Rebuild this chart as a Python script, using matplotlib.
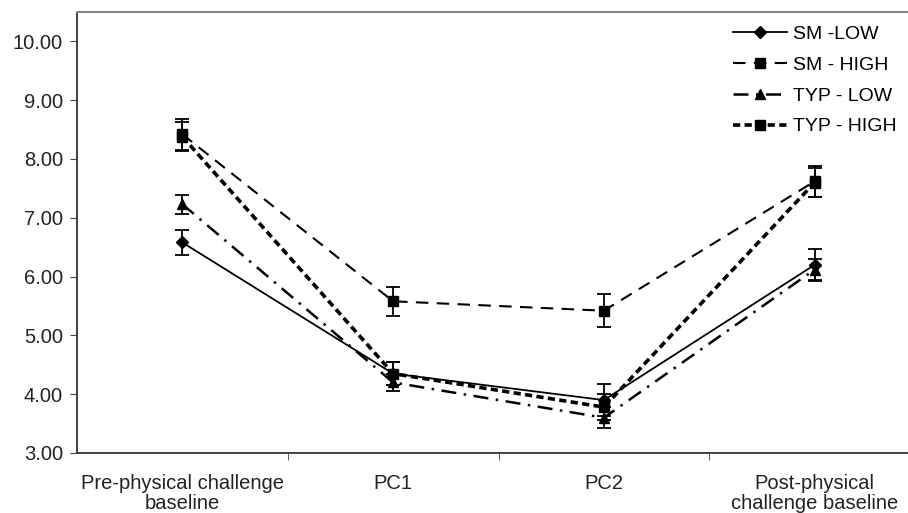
import numpy as np
import matplotlib.pyplot as plt

plt.rcParams['font.family'] = ['Liberation Sans', 'DejaVu Sans']

# categories on the x axis
phases = ["Pre-physical challenge\nbaseline", "PC1", "PC2", "Post-physical\nchallenge baseline"]

# group means and error bars
sm_low = [6.58, 4.35, 3.90, 6.20]
sm_low_err = [0.22, 0.20, 0.27, 0.27]
sm_high = [8.42, 5.58, 5.42, 7.62]
sm_high_err = [0.26, 0.25, 0.28, 0.26]
typ_low = [7.23, 4.20, 3.60, 6.12]
typ_low_err = [0.16, 0.15, 0.18, 0.18]
typ_high = [8.38, 4.35, 3.78, 7.60]
typ_high_err = [0.25, 0.20, 0.22, 0.25]

fig = plt.figure(figsize=(9.08, 5.13), dpi=100)
# axes runs a little past the right edge, like the original
ax = fig.add_axes([77 / 908, (513 - 453) / 513, (920 - 77) / 908, (453 - 12) / 513])

x = np.arange(len(phases))

series = [
    (sm_low, sm_low_err, "SM -LOW", "-", "D", 1.3, 6),
    (sm_high, sm_high_err, "SM - HIGH", (0, (6, 4)), "s", 1.5, 7),
    (typ_low, typ_low_err, "TYP - LOW", (0, (6, 3, 1, 3)), "^", 1.8, 7),
    (typ_high, typ_high_err, "TYP - HIGH", (0, (2, 1.2)), "s", 2.6, 7),
]
for vals, err, name, ls, mk, lw, ms in series:
    ax.errorbar(x, vals, yerr=err, color="black", linestyle=ls, linewidth=lw,
                marker=mk, markersize=ms, ecolor="black", elinewidth=1.3,
                capsize=5, capthick=1.3, label=name)

ax.set_xlim(-0.5, 3.5)
ax.set_ylim(3, 10.5)
ax.set_yticks(np.arange(3, 11, 1))
ax.set_yticklabels(["%.2f" % v for v in np.arange(3, 11, 1)], fontsize=14.5, color="#222222")
ax.set_xticks(x)
ax.set_xticklabels(phases, fontsize=14.5, color="#222222", linespacing=1.05)
ax.set_xticks([0.5, 1.5, 2.5], minor=True)
ax.tick_params(axis="x", which="major", length=0, pad=15)
ax.tick_params(axis="x", which="minor", length=5, direction="out", color="#444444")
ax.tick_params(axis="y", length=5, direction="out", color="#444444", pad=5)

ax.spines["right"].set_visible(False)
ax.spines["top"].set_color("#888888")
ax.spines["top"].set_linewidth(1.5)
ax.spines["left"].set_color("#333333")
ax.spines["bottom"].set_color("#333333")
ax.spines["left"].set_linewidth(1.3)
ax.spines["bottom"].set_linewidth(1.3)

# legend without error bar glyphs
handles, labels = ax.get_legend_handles_labels()
handles = [h[0] for h in handles]
ax.legend(handles, labels, loc="upper left", bbox_to_anchor=(0.778, 0.97),
          frameon=False, fontsize=14, handlelength=2.8, labelspacing=0.68,
          handletextpad=0.3, borderaxespad=0, borderpad=0)

fig.savefig("out.png", dpi=100)
